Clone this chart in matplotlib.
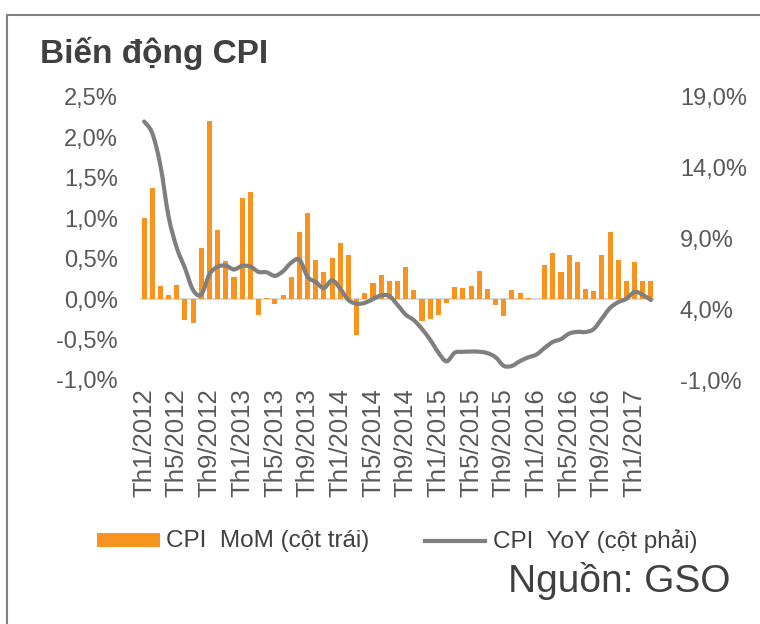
"""Bien dong CPI: CPI MoM (bars, left axis) vs CPI YoY (line, right axis)."""

import matplotlib

matplotlib.use("Agg")

import matplotlib.pyplot as plt  # noqa: E402
from matplotlib.lines import Line2D  # noqa: E402
from matplotlib.patches import PathPatch, Rectangle  # noqa: E402
from matplotlib.path import Path  # noqa: E402
from matplotlib.ticker import FuncFormatter  # noqa: E402

# ---------------------------------------------------------------------------
# Data (Jan 2012 - Mar 2017), percent
# ---------------------------------------------------------------------------
YEARS = [2012, 2013, 2014, 2015, 2016, 2017]
MONTHS_IN_LAST_YEAR = 3

CPI_MOM = [
    1.00, 1.37, 0.16, 0.05, 0.18, -0.26, -0.29, 0.63, 2.20, 0.85, 0.47, 0.27,
    1.25, 1.32, -0.19, 0.02, -0.06, 0.05, 0.27, 0.83, 1.06, 0.49, 0.34, 0.51,
    0.69, 0.55, -0.44, 0.08, 0.20, 0.30, 0.23, 0.22, 0.40, 0.11, -0.27, -0.24,
    -0.20, -0.05, 0.15, 0.14, 0.16, 0.35, 0.13, -0.07, -0.21, 0.11, 0.08, 0.02,
    0.00, 0.42, 0.57, 0.33, 0.54, 0.46, 0.13, 0.10, 0.54, 0.83, 0.48, 0.23,
    0.46, 0.23, 0.23,
]

CPI_YOY = [
    17.27, 16.44, 14.15, 10.54, 8.34, 6.90, 5.35, 5.04, 6.48, 7.00, 7.08, 6.81,
    7.07, 7.02, 6.64, 6.61, 6.36, 6.69, 7.29, 7.50, 6.30, 5.92, 5.50, 6.04,
    5.45, 4.65, 4.39, 4.45, 4.72, 4.98, 4.94, 4.31, 3.62, 3.23, 2.60, 1.84,
    0.94, 0.32, 0.93, 0.99, 1.01, 1.00, 0.90, 0.61, 0.00, 0.00, 0.34, 0.60,
    0.80, 1.27, 1.69, 1.89, 2.28, 2.40, 2.39, 2.60, 3.34, 4.09, 4.50, 4.74,
    5.22, 5.02, 4.65,
]

LEFT_TICKS = [-1.0, -0.5, 0.0, 0.5, 1.0, 1.5, 2.0, 2.5]
RIGHT_TICKS = [-1.0, 4.0, 9.0, 14.0, 19.0]

# ---------------------------------------------------------------------------
# Style
# ---------------------------------------------------------------------------
W, H = 760, 624
BAR_COLOR = "#F7931E"
LINE_COLOR = "#7F7F7F"
TEXT_COLOR = "#595959"
DARK_TEXT = "#404040"
FONT = ["Liberation Sans", "DejaVu Sans"]

plt.rcParams["font.family"] = FONT


def month_labels() -> list:
    labels = []
    for year in YEARS:
        n = MONTHS_IN_LAST_YEAR if year == YEARS[-1] else 12
        for m in range(1, n + 1):
            labels.append(f"Th{m}/{year}")
    return labels


def pct(v, _pos) -> str:
    return f"{v:.1f}%".replace(".", ",")


def fx(px: float) -> float:
    return px / W


def fy(py: float) -> float:
    return 1 - py / H


def smooth_path(xs, ys) -> Path:
    # Excel-style smoothed line: Catmull-Rom segments drawn as cubic Beziers
    verts = [(xs[0], ys[0])]
    codes = [Path.MOVETO]
    n = len(xs)
    for i in range(n - 1):
        p0 = (xs[max(i - 1, 0)], ys[max(i - 1, 0)])
        p1 = (xs[i], ys[i])
        p2 = (xs[i + 1], ys[i + 1])
        p3 = (xs[min(i + 2, n - 1)], ys[min(i + 2, n - 1)])
        c1 = (p1[0] + (p2[0] - p0[0]) / 6, p1[1] + (p2[1] - p0[1]) / 6)
        c2 = (p2[0] - (p3[0] - p1[0]) / 6, p2[1] - (p3[1] - p1[1]) / 6)
        verts += [c1, c2, p2]
        codes += [Path.CURVE4] * 3
    return Path(verts, codes)


def main() -> None:
    labels = month_labels()
    x = list(range(len(CPI_MOM)))

    fig = plt.figure(figsize=(W / 100, H / 100), dpi=100)
    ax = fig.add_axes([fx(140), fy(380), fx(655) - fx(140), fy(97) - fy(380)])
    ax2 = ax.twinx()

    ax.bar(x, CPI_MOM, width=0.62, color=BAR_COLOR, zorder=2)
    ax.axhline(0, color="#D9D9D9", linewidth=1.5, zorder=1)
    ax2.add_patch(PathPatch(smooth_path(x, CPI_YOY), facecolor="none",
                            edgecolor=LINE_COLOR, linewidth=3.0,
                            joinstyle="round", capstyle="round"))

    ax.set_xlim(-0.5, len(x) - 0.5)
    ax.set_ylim(-1.0, 2.5)
    ax2.set_ylim(-1.0, 19.0)
    ax.set_yticks(LEFT_TICKS)
    ax2.set_yticks(RIGHT_TICKS)
    ax.yaxis.set_major_formatter(FuncFormatter(pct))
    ax2.yaxis.set_major_formatter(FuncFormatter(pct))

    ax.set_xticks(x[::4])
    ax.set_xticklabels(labels[::4], rotation=90)

    for a in (ax, ax2):
        for sp in a.spines.values():
            sp.set_visible(False)
        a.patch.set_visible(False)
    ax.tick_params(axis="y", length=0, pad=16, labelsize=17, labelcolor=TEXT_COLOR)
    ax2.tick_params(axis="y", length=0, pad=18, labelsize=17, labelcolor=TEXT_COLOR)
    ax.tick_params(axis="x", length=0, pad=6, labelsize=18.5, labelcolor=TEXT_COLOR)

    # titles / legend / source
    fig.text(fx(40), fy(53), "Biến động CPI", fontsize=24, fontweight="bold",
             color=DARK_TEXT, va="center", ha="left")

    fig.add_artist(Rectangle((fx(97), fy(547)), fx(160) - fx(97), fy(533) - fy(547),
                             transform=fig.transFigure, color=BAR_COLOR, lw=0))
    fig.text(fx(166), fy(541), "CPI  MoM (cột trái)", fontsize=17.5,
             color=DARK_TEXT, va="center", ha="left")
    fig.add_artist(Line2D([fx(425), fx(485)], [fy(541), fy(541)],
                          transform=fig.transFigure, color=LINE_COLOR, lw=3.0))
    fig.text(fx(493), fy(541), "CPI  YoY (cột phải)", fontsize=17.5,
             color=DARK_TEXT, va="center", ha="left")

    fig.text(fx(508), fy(581), "Nguồn: GSO", fontsize=28,
             color=DARK_TEXT, va="center", ha="left")

    # outer frame
    fig.add_artist(Rectangle((fx(7), fy(640)), fx(770) - fx(7), fy(15) - fy(640),
                             transform=fig.transFigure, fill=False,
                             edgecolor="#808080", lw=1.5))

    fig.savefig("out.png", dpi=100)
    plt.close(fig)


if __name__ == "__main__":
    main()
